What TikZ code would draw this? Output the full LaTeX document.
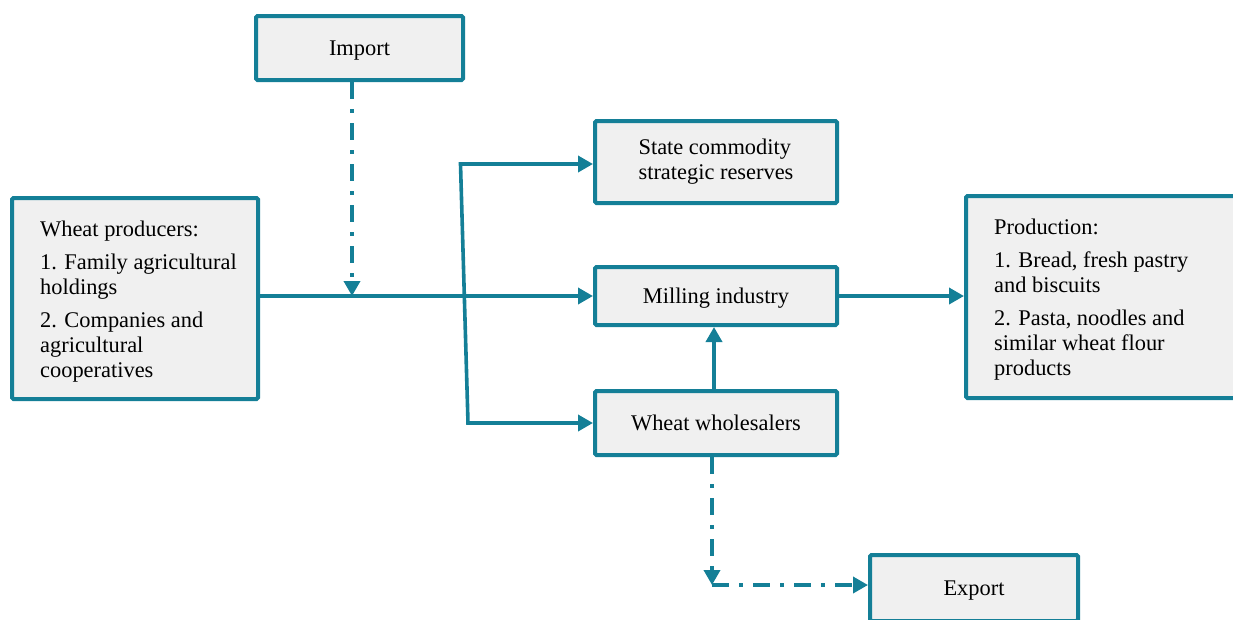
\documentclass[tikz,border=0pt]{standalone}
\usepackage{fontspec}
\setmainfont{Liberation Serif}
\usetikzlibrary{arrows.meta}
\definecolor{teal1}{RGB}{20,127,151}
\definecolor{boxfill}{RGB}{240,240,240}
\begin{document}
\begin{tikzpicture}[x=1pt,y=-1pt,
  box/.style={draw=teal1, fill=boxfill, line width=4pt, rectangle, rounded corners=1.5pt, inner sep=0pt},
  txt/.style={font=\fontsize{22.4}{25}\selectfont, text=black},
  one/.style={text depth=0pt},
  arr/.style={draw=teal1, line width=3.6pt, -{Triangle[length=15pt,width=16pt]}},
  ddash/.style={dash pattern=on 17pt off 10pt on 4pt off 10pt}]
\useasboundingbox (0,0) rectangle (1233,619);
\clip (0,0) rectangle (1233,619);
% boxes
\node[box, minimum width=207pt, minimum height=64pt, txt, one] (imp) at (359.5,48) {Import};
\node[box, minimum width=242pt, minimum height=82pt, txt, align=left] (scr) at (716,162) {State commodity\\strategic reserves};
\node[box, minimum width=246pt, minimum height=201pt] (prod) at (135,298.5) {};
\node[box, minimum width=242pt, minimum height=58pt, txt, one] (mill) at (716,296) {Milling industry};
\node[box, minimum width=242pt, minimum height=64pt, txt, one] (whol) at (716,423) {Wheat wholesalers};
\node[box, minimum width=282pt, minimum height=202pt] (out) at (1107,297) {};
\node[box, minimum width=208pt, minimum height=66pt, txt, one] (exp) at (974,588) {Export};
% multi-line texts
\node[txt, inner sep=0pt, anchor=north west, align=left] (prodtxt) at (40,221)
  {Wheat producers:\\[8pt]1. Family agricultural\\holdings\\[8pt]2. Companies and\\agricultural\\cooperatives};
\node[txt, inner sep=0pt, anchor=north west, align=left] (outtxt) at (994,219)
  {Production:\\[8pt]1. Bread, fresh pastry\\and biscuits\\[8pt]2. Pasta, noodles and\\similar wheat flour\\products};
% helper coordinates
\coordinate (impx) at (352,296);
\coordinate (bt) at (460.5,164);
\coordinate (bb) at (468,423);
\coordinate (ec) at (712,585);
% connectors
\draw[arr] (prod.east |- mill.west) -- (mill.west);
\draw[arr, ddash] (impx |- imp.south) -- (impx);
\draw[draw=teal1, line width=3.6pt, {Triangle[length=15pt,width=16pt]}-{Triangle[length=15pt,width=16pt]}] (scr.west |- bt) -- (bt) -- (bb) -- (whol.west);
\draw[arr] ([xshift=-2pt]whol.north) -- ([xshift=-2pt]mill.south);
\draw[arr] (mill.east) -- (mill.east -| out.west);
\draw[arr, ddash] (ec |- whol.south) -- (ec);
\draw[arr, ddash] (ec) -- (ec -| exp.west);
\end{tikzpicture}
\end{document}
